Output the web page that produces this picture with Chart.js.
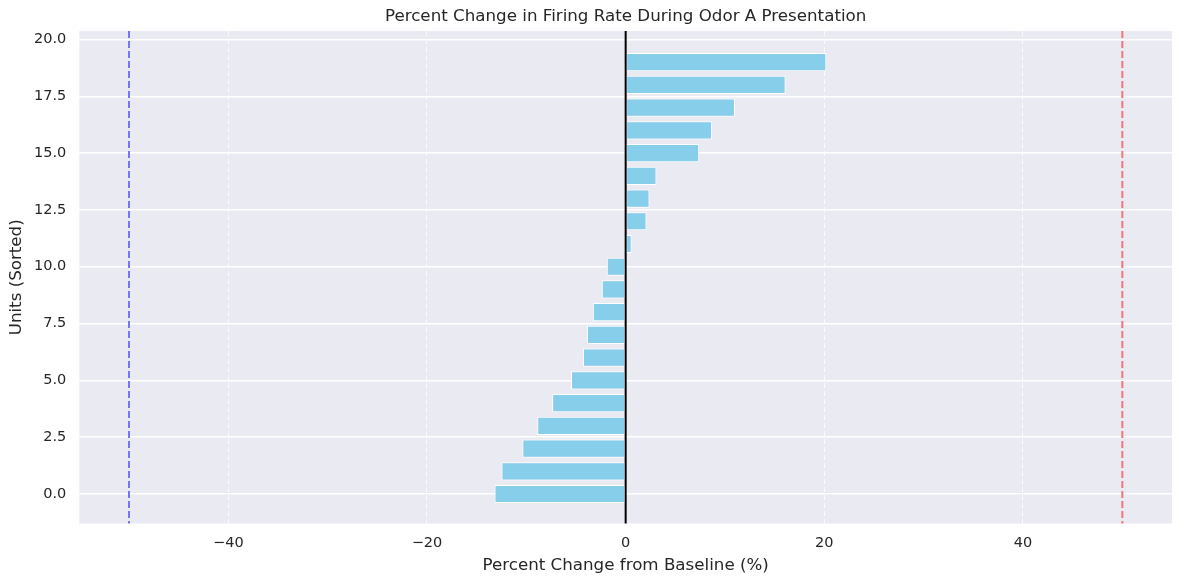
<!DOCTYPE html>
<html>
<head>
<meta charset="utf-8">
<script src="https://cdn.jsdelivr.net/npm/chart.js@4"></script>
<style>
  body { margin: 0; background: #fff; }
  #wrap { width: 1184px; height: 584px; }
</style>
</head>
<body>
<div id="wrap"><canvas id="firingChart"></canvas></div>
<script>
// units sorted by percent change (unit index on y)
const unitIndex = [0, 1, 2, 3, 4, 5, 6, 7, 8, 9, 10, 11, 12, 13, 14, 15, 16, 17, 18, 19];
const pctChange = [-13.2, -12.5, -10.4, -8.9, -7.4, -5.5, -4.3, -3.9, -3.3, -2.4, -1.9,
                   0.6, 2.1, 2.4, 3.1, 7.4, 8.7, 11.0, 16.1, 20.2];
const xTicks = [-40, -20, 0, 20, 40];
const yTicks = [0, 2.5, 5, 7.5, 10, 12.5, 15, 17.5, 20];
const thresholds = [-50, 50];
const zeroLine = 0;

Chart.defaults.font.family = "'DejaVu Sans', sans-serif";
Chart.defaults.color = '#262626';

const bgPlugin = {
  id: 'plotBg',
  beforeDraw(chart) {
    const a = chart.chartArea, ctx = chart.ctx;
    ctx.save();
    ctx.fillStyle = '#EAEAF2';
    ctx.fillRect(a.left, a.top, a.right - a.left, a.bottom - a.top);
    ctx.restore();
  }
};

const refLines = {
  id: 'refLines',
  afterDatasetsDraw(chart) {
    const a = chart.chartArea, ctx = chart.ctx, xs = chart.scales.x;
    ctx.save();
    ctx.lineWidth = 2;
    ctx.setLineDash([7, 3]);
    [['#7575F8', thresholds[0]], ['#F47579', thresholds[1]]].forEach(([c, v]) => {
      const px = xs.getPixelForValue(v);
      ctx.strokeStyle = c;
      ctx.beginPath(); ctx.moveTo(px, a.top); ctx.lineTo(px, a.bottom); ctx.stroke();
    });
    ctx.setLineDash([]);
    ctx.strokeStyle = '#000';
    const z = xs.getPixelForValue(zeroLine);
    ctx.beginPath(); ctx.moveTo(z, a.top); ctx.lineTo(z, a.bottom); ctx.stroke();
    ctx.restore();
  }
};

const ctx = document.getElementById('firingChart').getContext('2d');
const firingChart = new Chart(ctx, {
  type: 'bar',
  data: {
    datasets: [{
      data: unitIndex.map((u, i) => ({ x: pctChange[i], y: u })),
      backgroundColor: '#87CEEB',
      borderColor: '#ffffff',
      borderWidth: 1,
      borderSkipped: false,
      barPercentage: 1,
      categoryPercentage: 0.8
    }]
  },
  options: {
    indexAxis: 'y',
    responsive: true,
    maintainAspectRatio: false,
    animation: false,
    layout: { padding: { left: 7, right: 12, top: 2, bottom: 8 } },
    plugins: {
      legend: { display: false },
      tooltip: { enabled: false },
      title: {
        display: true,
        fullSize: false,
        text: 'Percent Change in Firing Rate During Odor A Presentation',
        font: { size: 16.7, weight: 'normal' },
        color: '#262626',
        padding: { top: 5, bottom: 4 }
      }
    },
    scales: {
      x: {
        type: 'linear',
        min: -55,
        max: 55,
        afterBuildTicks: s => { s.ticks = xTicks.map(v => ({ value: v })); },
        ticks: {
          font: { size: 14.5 },
          padding: 11,
          callback: v => v < 0 ? '\u2212' + Math.abs(v) : String(v)
        },
        grid: { color: 'rgba(255,255,255,0.75)', lineWidth: 1, drawTicks: false },
        border: { display: false, dash: [5, 3] },
        title: {
          display: true,
          text: 'Percent Change from Baseline (%)',
          font: { size: 16.7 },
          padding: { top: -7, bottom: 0 }
        }
      },
      y: {
        type: 'linear',
        min: -1.3,
        max: 20.37,
        offset: false,
        afterBuildTicks: s => { s.ticks = yTicks.map(v => ({ value: v })); },
        ticks: {
          font: { size: 14.5 },
          padding: 13,
          callback: v => v.toFixed(1)
        },
        grid: { color: '#ffffff', lineWidth: 1.4, drawTicks: false, offset: false },
        border: { display: false },
        title: {
          display: true,
          text: 'Units (Sorted)',
          font: { size: 16.7 },
          padding: { top: 0, bottom: -6 }
        }
      }
    }
  },
  plugins: [bgPlugin, refLines]
});
</script>
</body>
</html>
